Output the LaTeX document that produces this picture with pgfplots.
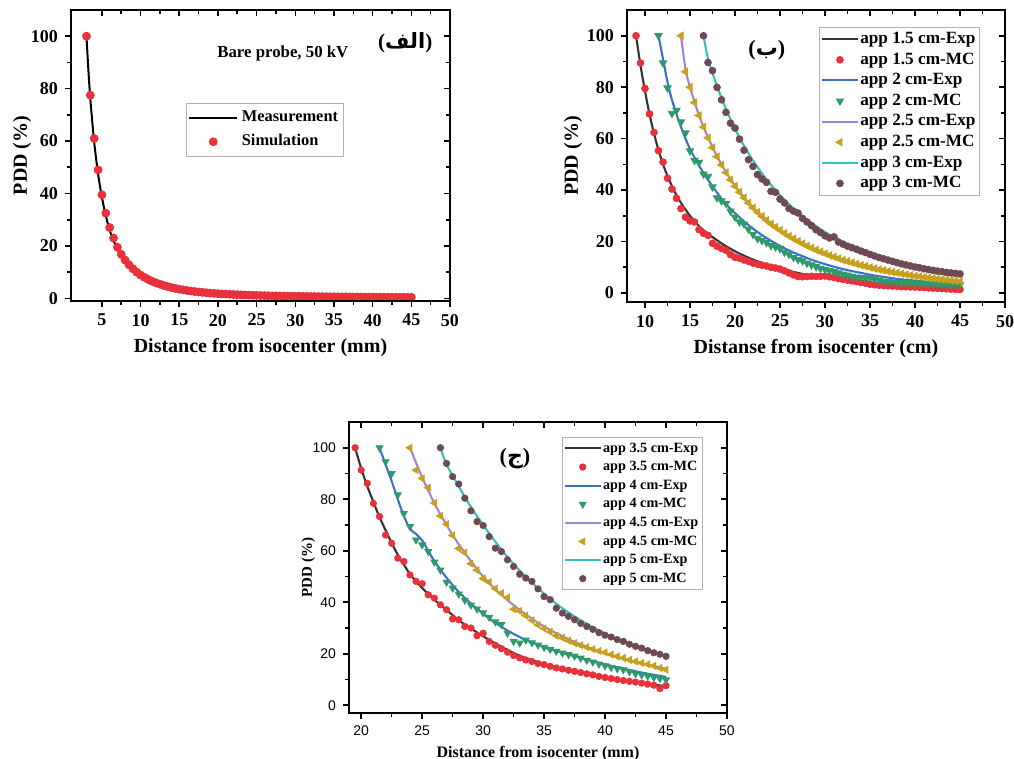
\documentclass[border=0pt]{standalone}
\usepackage{fontspec}
\setmainfont{Liberation Serif}
\newfontfamily\sansf{Liberation Sans}
\newfontfamily\arabicfont[Script=Arabic]{DejaVu Sans}
\TeXXeTstate=1
\usepackage{pgfplots}
\pgfplotsset{compat=1.18}

\definecolor{cK}{HTML}{333333}
\definecolor{cR}{HTML}{E8313A}
\definecolor{cB}{HTML}{3B6FC9}
\definecolor{cG}{HTML}{2E9A6B}
\definecolor{cP}{HTML}{A182D6}
\definecolor{cY}{HTML}{C9A01A}
\definecolor{cC}{HTML}{35BFBF}
\definecolor{cM}{HTML}{6E4A52}

\pgfplotsset{
  common/.style={
    scale only axis, width=189pt, height=145.5pt, anchor=south west,
    axis line style={line width=0.9pt},
    tick style={black, line width=0.8pt},
    major tick length=3pt, minor tick length=1.8pt,
    minor x tick num=1, minor y tick num=1,
    ymax=110, ytick={0,20,...,100},
  },
  panel/.style={common, tick align=outside, xtick pos=left, ytick pos=left,
    /pgf/number format/assume math mode=true},
  frame/.style={common, tick align=inside, xtick pos=right, ytick pos=right,
    xticklabels={}, yticklabels={}},
  expline/.style={line width=1.05pt, smooth, tension=0.5, no marks},
  mcdot/.style={only marks, mark=*, mark size=1.7pt, mark options={draw=#1, fill=#1}},
  mcdown/.style={only marks, mark=triangle*, mark size=2.1pt, mark options={rotate=180, draw=#1, fill=#1}},
  mcleft/.style={only marks, mark=triangle*, mark size=2.1pt, mark options={rotate=90, draw=#1, fill=#1}},
}

\begin{document}
\begin{tikzpicture}
\path[use as bounding box] (0,0) rectangle (507pt,379.5pt);

% ---------------- panel (alef)
\begin{axis}[panel, at={(35.5pt,229pt)}, width=189.5pt,
  xmin=1, xmax=50, ymin=-1, xtick={5,10,...,50},
  tick label style={font=\bfseries\fontsize{9}{10}\selectfont},
  label style={font=\bfseries\fontsize{10}{12}\selectfont},
  xlabel={Distance from isocenter (mm)}, ylabel={PDD (\%)},
  xlabel style={at={(axis description cs:0.5,-0.16)}, anchor=center},
  ylabel style={at={(axis description cs:-0.129,0.5)}, anchor=center},
  legend cell align=left,
  legend style={at={(0.303,0.680)}, anchor=north west, draw=gray!60,
    font=\bfseries\fontsize{8.2}{10}\selectfont, inner xsep=1pt, inner ysep=1pt,
    nodes={inner sep=1.8pt, text height=6.3pt, text depth=2.2pt}},
  legend image code/.code={\draw[mark repeat=2,mark phase=2,#1] plot coordinates {(0pt,0pt) (12pt,0pt) (24pt,0pt)};},
]
\addplot[black, line width=1pt, smooth, tension=0.4, no marks] coordinates {
(3,100)(3.25,87)(3.5,76)(4,59.5)(4.5,47.5)(5,38.5)(5.5,31.5)(6,26)(6.5,22)(7,18.8)(7.5,16.2)
(8,14.1)(9,11)(10,8.8)(11,7.2)(12,5.9)(13,4.9)(14,4.1)(15,3.5)(16,3)(17,2.6)(18,2.3)(19,2)
(20,1.8)(22,1.48)(24,1.24)(26,1.06)(28,0.92)(30,0.8)(33,0.68)(36,0.58)(39,0.5)(42,0.44)(45,0.39)};
\addlegendentry{Measurement}
\addplot[mcdot=cR, mark size=2pt] coordinates {
(3,100)(3.5,77.5)(4,61)(4.5,49)(5,39.5)(5.5,32.5)(6,27)(6.5,23)(7,19.5)(7.5,16.8)(8,14.6)
(8.5,12.8)(9,11.3)(9.5,10)(10,8.9)(10.5,8)(11,7.2)(11.5,6.5)(12,5.9)(12.5,5.4)(13,4.9)
(13.5,4.5)(14,4.1)(14.5,3.8)(15,3.5)(15.5,3.25)(16,3)(16.5,2.8)(17,2.6)(17.5,2.45)(18,2.3)
(18.5,2.15)(19,2)(19.5,1.9)(20,1.8)(20.5,1.7)(21,1.62)(21.5,1.55)(22,1.48)(22.5,1.41)
(23,1.35)(23.5,1.29)(24,1.24)(24.5,1.19)(25,1.14)(25.5,1.1)(26,1.06)(26.5,1.02)(27,0.98)
(27.5,0.95)(28,0.92)(28.5,0.89)(29,0.86)(29.5,0.83)(30,0.8)(30.5,0.78)(31,0.76)(31.5,0.74)
(32,0.72)(32.5,0.7)(33,0.68)(33.5,0.66)(34,0.64)(34.5,0.62)(35,0.61)(35.5,0.59)(36,0.58)
(36.5,0.56)(37,0.55)(37.5,0.54)(38,0.53)(38.5,0.51)(39,0.5)(39.5,0.49)(40,0.48)(40.5,0.47)
(41,0.46)(41.5,0.45)(42,0.44)(42.5,0.43)(43,0.42)(43.5,0.41)(44,0.4)(44.5,0.4)(45,0.39)};
\addlegendentry{Simulation}
\node[font=\bfseries\fontsize{8.4}{10}\selectfont] at (axis description cs:0.559,0.852) {Bare probe, 50 kV};
\node[font=\bfseries\fontsize{10.5}{12}\selectfont] at (axis description cs:0.882,0.887) {({\arabicfont\beginR الف\endR})};
\end{axis}
\begin{axis}[frame, at={(35.5pt,229pt)}, width=189.5pt, xmin=1, xmax=50, ymin=-1, xtick={5,10,...,50}]
\end{axis}

% ---------------- panel (be)
\begin{axis}[panel, at={(313.5pt,228.5pt)}, height=146pt,
  xmin=8, xmax=50, ymin=-3.5, xtick={10,15,...,50},
  tick label style={font=\bfseries\fontsize{9}{10}\selectfont},
  label style={font=\bfseries\fontsize{10}{12}\selectfont},
  xlabel={Distanse from isocenter (cm)}, ylabel={PDD (\%)},
  xlabel style={at={(axis description cs:0.5,-0.158)}, anchor=center},
  ylabel style={at={(axis description cs:-0.143,0.5)}, anchor=center},
  legend cell align=left,
  legend style={at={(0.508,0.942)}, anchor=north west, draw=gray!60,
    font=\bfseries\fontsize{8.6}{10}\selectfont, inner xsep=1pt, inner ysep=0.8pt,
    nodes={inner sep=0.9pt, text height=6.4pt, text depth=2.1pt}},
  legend image code/.code={\draw[mark repeat=2,mark phase=2,#1] plot coordinates {(0pt,0pt) (8.75pt,0pt) (17.5pt,0pt)};},
]
\addplot[expline, cK] coordinates {
(9,100)(9.5,88.5)(10,78.5)(10.5,69.5)(11,62)(11.5,55.5)(12,50)(12.5,45.5)(13,41.5)(13.5,38)
(14,35)(15,30)(16,26)(17,23)(18,20.5)(19,18.2)(20,16.2)(21,14.5)(22,13)(23,11.7)(24,10.5)
(25,9.5)(26,8.6)(27,7.8)(28,7.1)(29,6.5)(30,6)(31,5.5)(32,5)(33,4.6)(34,4.2)(35,3.9)(37,3.4)
(39,3)(41,2.6)(43,2.3)(45,2.1)};
\addlegendentry{app 1.5 cm-Exp}
\addplot[mcdot=cR] coordinates {
(9,100)(9.5,89.4)(10,79.5)(10.5,69.6)(11,62.4)(11.5,55.3)(12,50.9)(12.5,44.6)(13,40.4)
(13.5,36.8)(14,32.8)(14.5,29.5)(15,28)(15.5,27.6)(16,24.6)(16.5,23.2)(17,22.4)(17.5,19.3)
(18,18.2)(18.5,17.3)(19,16.6)(19.5,14.9)(20,13.9)(20.5,13.5)(21,12.8)(21.5,12.3)(22,11.6)
(22.5,11.2)(23,10.8)(23.5,10.5)(24,10)(24.5,9.7)(25,9.3)(25.5,8.6)(26,7.8)(26.5,7)(27,6.4)
(27.5,6.3)(28,6.4)(28.5,6.5)(29,6.4)(29.5,6.5)(30,6.6)(30.5,6.3)(31,6)(31.5,5.6)(32,5.3)
(32.5,5)(33,4.7)(33.5,4.4)(34,4.1)(34.5,3.8)(35,3.4)(35.5,3.2)(36,3)(36.5,2.9)(37,2.8)
(37.5,2.7)(38,2.6)(38.5,2.5)(39,2.4)(39.5,2.35)(40,2.3)(40.5,2.2)(41,2.1)(41.5,2)(42,1.9)
(42.5,1.8)(43,1.7)(43.5,1.6)(44,1.5)(44.5,1.4)(45,1.35)};
\addlegendentry{app 1.5 cm-MC}
\addplot[expline, cB] coordinates {
(11.5,100)(12,91)(12.5,82)(13,75)(13.5,69.5)(14,64.5)(14.5,60)(15,56)(16,49.5)(17,44)(18,39)
(19,34.5)(20,31)(21,27.8)(22,25)(23,22.5)(24,20.3)(25,18.3)(26,16.5)(27,15)(28,13.6)(29,12.3)
(30,11.2)(31,10.2)(32,9.3)(33,8.5)(34,7.8)(35,7.1)(36,6.5)(37,6)(38,5.5)(40,4.8)(42,4.2)(45,3.6)};
\addlegendentry{app 2 cm-Exp}
\addplot[mcdown=cG] coordinates {
(11.5,100)(12,89.4)(12.5,79.7)(13,69.8)(13.5,71)(14,66.5)(14.5,62.2)(15,55.2)(15.5,51.5)
(16,50.8)(16.5,46.2)(17,45.3)(17.5,41.2)(18,37)(18.5,35.8)(19,34.8)(19.5,31.8)(20,29.5)
(20.5,27.6)(21,26.8)(21.5,24.8)(22,22.8)(22.5,21.2)(23,20.4)(23.5,19.6)(24,18.4)(24.5,17.9)
(25,17.2)(25.5,15.9)(26,15)(26.5,13.8)(27,13)(27.5,12.5)(28,11.6)(28.5,10.9)(29,10.2)
(29.5,9.6)(30,9.1)(30.5,8.7)(31,8.3)(31.5,7.8)(32,7.3)(32.5,6.9)(33,6.5)(33.5,6.2)(34,6)
(34.5,5.9)(35,5.8)(35.5,5.4)(36,5)(36.5,4.6)(37,4.4)(37.5,4.3)(38,4.2)(38.5,4.1)(39,4)
(39.5,3.9)(40,3.9)(40.5,3.8)(41,3.7)(41.5,3.6)(42,3.5)(42.5,3.45)(43,3.4)(43.5,3.3)(44,3.3)
(44.5,3.2)(45,3.2)};
\addlegendentry{app 2 cm-MC}
\addplot[expline, cP] coordinates {
(14,100)(14.5,87)(15,80)(16,69)(17,60.5)(18,53.2)(19,47)(20,41.7)(21,37.2)(22,33.3)(23,30)
(24,27.1)(25,24.6)(26,22.3)(27,20.3)(28,18.5)(29,16.9)(30,15.5)(32,13)(34,11)(36,9.3)(38,7.9)
(40,6.7)(42,5.8)(45,4.6)};
\addlegendentry{app 2.5 cm-Exp}
\addplot[mcleft=cY] coordinates {
(14,100)(14.5,86)(15,80)(15.5,74)(16,69)(16.5,64.5)(17,60.3)(17.5,56.5)(18,53)(18.5,49.8)
(19,46.8)(19.5,44)(20,41.5)(20.5,39.2)(21,37)(21.5,35)(22,33.1)(22.5,31.4)(23,29.8)
(23.5,28.3)(24,26.9)(24.5,25.6)(25,24.4)(25.5,23.2)(26,22.1)(26.5,21.1)(27,20.1)(27.5,19.2)
(28,18.3)(28.5,17.5)(29,16.7)(29.5,16)(30,15.3)(30.5,14.6)(31,14)(31.5,13.4)(32,12.8)
(32.5,12.3)(33,11.8)(33.5,11.3)(34,10.8)(34.5,10.4)(35,9.9)(35.5,9.5)(36,9.1)(36.5,8.8)
(37,8.4)(37.5,8.1)(38,7.8)(38.5,7.5)(39,7.2)(39.5,6.9)(40,6.6)(40.5,6.4)(41,6.1)(41.5,5.9)
(42,5.7)(42.5,5.5)(43,5.3)(43.5,5.1)(44,4.9)(44.5,4.7)(45,4.5)};
\addlegendentry{app 2.5 cm-MC}
\addplot[expline, cC] coordinates {
(16.5,100)(17,91)(17.5,85.5)(18,80.5)(18.5,75.8)(19,71.5)(19.5,67.5)(20,63.8)(21,57.2)(22,51.5)
(23,46.5)(24,42)(25,38)(26,34.5)(27,31.3)(28,28.5)(29,26)(30,23.7)(31,21.6)(32,19.8)(33,18.1)
(34,16.6)(35,15.2)(36,14)(37,12.9)(38,11.9)(39,11)(40,10.2)(41,9.5)(42,8.8)(43,8.2)(44,7.7)(45,7.2)};
\addlegendentry{app 3 cm-Exp}
\addplot[mcdot=cM] coordinates {
(16.5,100)(17,89.6)(17.5,86.4)(18,79.9)(18.5,75.1)(19,70.2)(19.5,66)(20,64.1)(20.5,59.8)
(21,55.5)(21.5,51.8)(22,49.2)(22.5,46)(23,44.3)(23.5,43)(24,39.5)(24.5,39.1)(25,36.5)
(25.5,35)(26,32.8)(26.5,31.8)(27,31.1)(27.5,29)(28,27.6)(28.5,26.2)(29,24.6)(29.5,23.5)
(30,22.2)(30.5,21.4)(31,21.8)(31.5,19.8)(32,19)(32.5,18.2)(33,17.6)(33.5,17)(34,16.3)
(34.5,15.7)(35,15)(35.5,14.4)(36,13.8)(36.5,13.3)(37,12.8)(37.5,12.3)(38,11.8)(38.5,11.3)
(39,10.9)(39.5,10.5)(40,10.1)(40.5,9.8)(41,9.4)(41.5,9.1)(42,8.8)(42.5,8.5)(43,8.3)(43.5,8)
(44,7.8)(44.5,7.6)(45,7.4)};
\addlegendentry{app 3 cm-MC}
\node[font=\bfseries\fontsize{11}{12}\selectfont] at (axis description cs:0.370,0.863) {({\arabicfont\beginR ب\endR})};
\end{axis}
\begin{axis}[frame, at={(313.5pt,228.5pt)}, height=146pt, xmin=8, xmax=50, ymin=-3.5, xtick={10,15,...,50}]
\end{axis}

% ---------------- panel (jim)
\begin{axis}[panel, at={(174.5pt,23pt)},
  xmin=19, xmax=50, ymin=-3, xtick={20,25,...,50},
  tick label style={font=\sansf\fontsize{7}{8}\selectfont},
  xlabel={Distance from isocenter (mm)}, ylabel={PDD (\%)},
  xlabel style={font=\bfseries\fontsize{8}{9}\selectfont, at={(axis description cs:0.5,-0.138)}, anchor=center},
  ylabel style={font=\bfseries\fontsize{7.5}{9}\selectfont, at={(axis description cs:-0.108,0.5)}, anchor=center},
  legend cell align=left,
  legend style={at={(0.563,0.948)}, anchor=north west, draw=gray!60,
    font=\bfseries\fontsize{7.1}{8}\selectfont, inner xsep=1pt, inner ysep=0.8pt,
    nodes={inner sep=0.9pt, text height=5.6pt, text depth=1.9pt}},
  legend image code/.code={\draw[mark repeat=2,mark phase=2,#1] plot coordinates {(0pt,0pt) (8.75pt,0pt) (17.5pt,0pt)};},
]
\addplot[expline, cK] coordinates {
(19.5,100)(20,92)(20.5,85)(21,79)(21.5,73)(22,68)(22.5,63)(23,58.5)(24,51)(25,45.5)(26,41)
(27,37)(28,33)(29,29.8)(30,26.8)(31,24)(32,21.5)(33,19.2)(34,17.5)(35,16)(36,14.8)(37,13.7)
(38,12.7)(39,11.8)(40,10.9)(41,10.1)(42,9.3)(43,8.6)(44,8)(45,7.4)};
\addlegendentry{app 3.5 cm-Exp}
\addplot[mcdot=cR, mark size=1.6pt] coordinates {
(19.5,100)(20,91.3)(20.5,86.2)(21,78.4)(21.5,73.3)(22,66.1)(22.5,62.9)(23,57.1)(23.5,55.8)
(24,50.6)(24.5,48.1)(25,47.2)(25.5,42.9)(26,41.6)(26.5,39)(27,37.1)(27.5,33.5)(28,33.2)
(28.5,30.6)(29,30)(29.5,27)(30,28)(30.5,24.8)(31,23.3)(31.5,22)(32,20.6)(32.5,19.3)(33,18.4)
(33.5,17.6)(34,17)(34.5,16.2)(35,15.8)(35.5,15.1)(36,14.5)(36.5,14.1)(37,13.6)(37.5,13.2)
(38,12.7)(38.5,12.2)(39,11.8)(39.5,11.2)(40,10.8)(40.5,10.4)(41,10)(41.5,9.6)(42,9.3)
(42.5,9)(43,8.6)(43.5,8.2)(44,7.8)(44.5,6.5)(45,7.6)};
\addlegendentry{app 3.5 cm-MC}
\addplot[expline, cB] coordinates {
(21.5,100)(22,93.5)(22.5,87)(23,80)(23.5,73.5)(24,68.5)(24.5,66.5)(25,64)(25.5,60)(26,56)
(27,49.5)(28,44)(29,39.5)(30,35.5)(31,32)(32,29)(33,26.5)(33.5,25.3)(34,24.4)(35,22.7)(36,21.1)
(37,19.7)(38,18.4)(39,17.1)(40,15.9)(41,14.8)(42,13.7)(43,12.7)(44,11.8)(45,11)};
\addlegendentry{app 4 cm-Exp}
\addplot[mcdown=cG, mark size=2pt] coordinates {
(21.5,100)(22,94.6)(22.5,90)(23,81.7)(23.5,74.5)(24,69.4)(24.5,64.2)(25,62.3)(25.5,59.7)
(26,55.6)(26.5,52.5)(27,47.8)(27.5,45.5)(28,43.2)(28.5,40.8)(29,38.9)(29.5,37.4)(30,35.9)
(30.5,34.2)(31,32.4)(31.5,31.4)(32,28)(32.5,24.8)(33,24.2)(33.5,25.3)(34,24.3)(34.5,23.4)
(35,22.5)(35.5,21.7)(36,21)(36.5,20.3)(37,19.7)(37.5,19.1)(38,18.3)(38.5,17.5)(39,16.8)
(39.5,16)(40,15.3)(40.5,14.7)(41,14.2)(41.5,13.8)(42,13)(42.5,12.3)(43,11.8)(43.5,11.3)
(44,10.8)(44.5,10.4)(45,9.9)};
\addlegendentry{app 4 cm-MC}
\addplot[expline, cP] coordinates {
(24,100)(25,88.5)(26,78.5)(27,70)(28,62.5)(29,56)(30,50)(31,45)(32,40.8)(33,37)(34,33.6)
(35,30.6)(36,28)(37,25.7)(38,23.6)(39,21.8)(40,20.2)(41,18.8)(42,17.5)(43,16.3)(44,15.2)(45,14.2)};
\addlegendentry{app 4.5 cm-Exp}
\addplot[mcleft=cY, mark size=2pt] coordinates {
(24,100)(24.5,91.3)(25,88.1)(25.5,84.5)(26,78.5)(26.5,73.5)(27,70.3)(27.5,66)(28,60.9)
(28.5,59.3)(29,55)(29.5,52.5)(30,49.2)(30.5,47.8)(31,45.3)(31.5,43.5)(32,41.8)(32.5,37.3)
(33,36.6)(33.5,34.8)(34,33)(34.5,31.2)(35,29.8)(35.5,28.5)(36,27)(36.5,26.2)(37,25.1)
(37.5,24.1)(38,23.3)(38.5,22.6)(39,21.8)(39.5,21.1)(40,20.5)(40.5,19.7)(41,19)(41.5,18.3)
(42,17.6)(42.5,17)(43,16.4)(43.5,15.9)(44,15.3)(44.5,14.5)(45,13.8)};
\addlegendentry{app 4.5 cm-MC}
\addplot[expline, cC] coordinates {
(26.5,100)(27,93.5)(28,85)(29,77)(30,70)(31,63.5)(32,57.5)(33,52.3)(34,47.6)(35,43.3)(36,39.4)
(37,36)(38,33)(39,30.3)(40,27.9)(41,25.7)(42,23.8)(43,22.1)(44,20.5)(45,19.1)};
\addlegendentry{app 5 cm-Exp}
\addplot[mcdot=cM, mark size=1.6pt] coordinates {
(26.5,100)(27,93.9)(27.5,88.8)(28,85.9)(28.5,80.4)(29,75.5)(29.5,71.3)(30,69.8)(30.5,65.5)
(31,61)(31.5,59.7)(32,56.5)(32.5,53.9)(33,50.9)(33.5,49.4)(34,48.1)(34.5,45.2)(35,42.2)
(35.5,41)(36,37.7)(36.5,35.8)(37,34.5)(37.5,33.2)(38,31.8)(38.5,30.6)(39,29.5)(39.5,28.2)
(40,27.2)(40.5,26.5)(41,25.5)(41.5,24.8)(42,23.7)(42.5,22.9)(43,22.2)(43.5,21.2)(44,20.4)
(44.5,19.8)(45,19)};
\addlegendentry{app 5 cm-MC}
\node[font=\bfseries\fontsize{11}{12}\selectfont] at (axis description cs:0.439,0.876) {({\arabicfont\beginR ج\endR})};
\end{axis}
\begin{axis}[frame, at={(174.5pt,23pt)}, xmin=19, xmax=50, ymin=-3, xtick={20,25,...,50}]
\end{axis}
\end{tikzpicture}
\end{document}
